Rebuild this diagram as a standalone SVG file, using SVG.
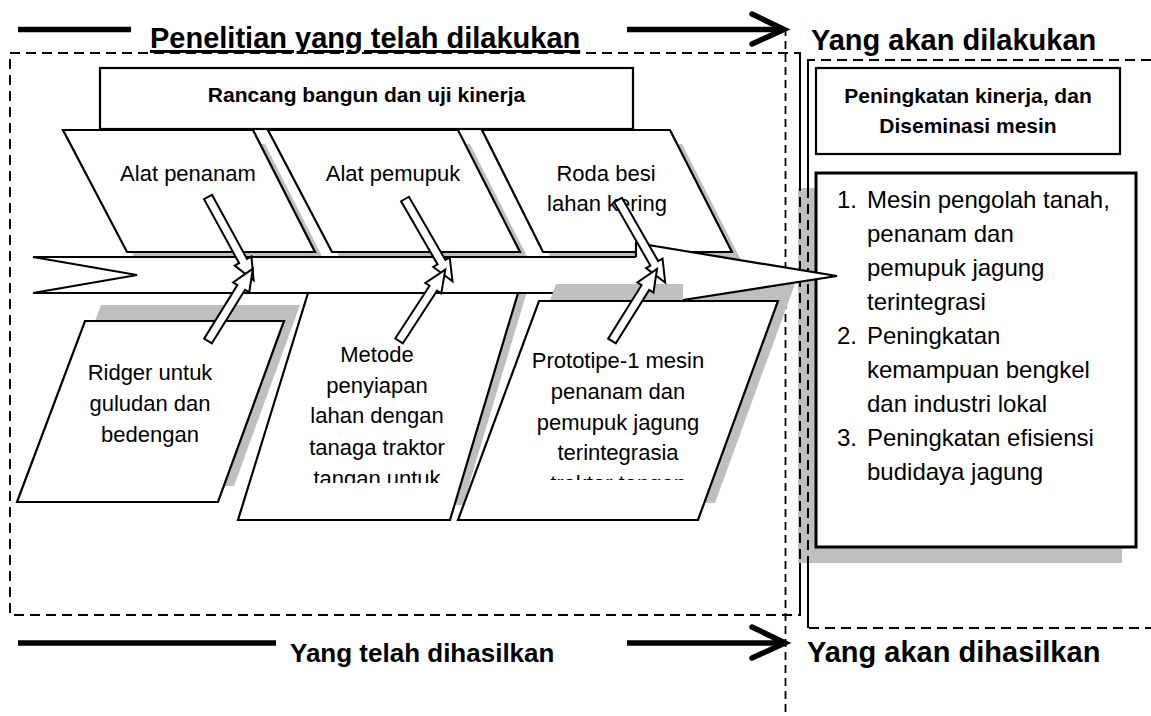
<svg xmlns="http://www.w3.org/2000/svg" width="1151" height="716" viewBox="0 0 1151 716">
<style>
  text { font-family: "Liberation Sans", Arial, sans-serif; fill: #000; }
  .hdr { font-size: 29px; font-weight: bold; }
  .hdr2 { font-size: 26px; font-weight: bold; }
  .ttl { font-size: 21px; font-weight: bold; }
  .t { font-size: 22px; text-anchor: middle; }
  .l { font-size: 24px; }
  .box { fill: #fff; stroke: #000; stroke-width: 2.2; }
  .shd { fill: #bfbfbf; stroke: none; }
  .dash { fill: none; stroke: #000; stroke-width: 2; stroke-dasharray: 10 6; }
  .thick { fill: none; stroke: #000; stroke-width: 5.5; }
  .chev { fill: none; stroke: #000; stroke-width: 5.5; stroke-linecap: round; stroke-linejoin: miter; }
  .blk { fill: #fff; stroke: #000; stroke-width: 2; stroke-linejoin: miter; }
</style>
<defs>
  <path id="au" d="M0,-4.5 L73,-4.5 L73,-9.5 L95,0 L73,9.5 L73,4.5 L0,4.5 Z"/>
  <path id="al" d="M0,-4.5 L63,-4.5 L63,-9.5 L85,0 L63,9.5 L63,4.5 L0,4.5 Z"/>
  <clipPath id="c2"><rect x="220" y="300" width="320" height="183"/></clipPath>
  <clipPath id="c3"><rect x="450" y="300" width="340" height="180"/></clipPath>
</defs>

<!-- frame lines and headings -->
<g id="frames">
  <rect class="dash" x="10" y="53" width="790" height="562"/>
  <path class="dash" d="M1151,60 L808,60 L808,628 L1151,628"/>
  <line x1="785.5" y1="28" x2="785.5" y2="716" stroke="#000" stroke-width="1.8" stroke-dasharray="8 5"/>
</g>

<g id="header-top">
  <line class="thick" x1="18" y1="29.5" x2="131" y2="29.5"/>
  <text class="hdr" x="150" y="48" text-decoration="underline">Penelitian yang telah dilakukan</text>
  <line class="thick" x1="627" y1="29.5" x2="780" y2="29.5"/>
  <polyline class="chev" points="752,14 784,29.5 752,44"/>
  <text class="hdr" x="811" y="50">Yang akan dilakukan</text>
</g>

<g id="header-bottom">
  <line class="thick" x1="18" y1="643" x2="276" y2="643"/>
  <text class="hdr2" x="290" y="662">Yang telah dihasilkan</text>
  <line class="thick" x1="627" y1="643" x2="782" y2="643"/>
  <polyline class="chev" points="752,627 785,643 752,658"/>
  <text class="hdr" x="807" y="662">Yang akan dihasilkan</text>
</g>

<!-- right side boxes -->
<g id="box-kinerja">
  <rect class="box" x="816" y="68" width="304" height="86"/>
  <text class="ttl" x="968" y="103" text-anchor="middle">Peningkatan kinerja, dan</text>
  <text class="ttl" x="968" y="133" text-anchor="middle">Diseminasi mesin</text>
</g>

<g id="box-hasil">
  <rect class="shd" x="798" y="188" width="324" height="375"/>
  <rect x="816" y="173" width="320" height="374" fill="#fff" stroke="#000" stroke-width="3"/>
  <text class="l" x="837" y="208">1.</text>
  <text class="l" x="867" y="208">Mesin pengolah tanah,</text>
  <text class="l" x="867" y="242">penanam dan</text>
  <text class="l" x="867" y="276">pemupuk jagung</text>
  <text class="l" x="867" y="310">terintegrasi</text>
  <text class="l" x="837" y="344">2.</text>
  <text class="l" x="867" y="344">Peningkatan</text>
  <text class="l" x="867" y="378">kemampuan bengkel</text>
  <text class="l" x="867" y="412">dan industri lokal</text>
  <text class="l" x="837" y="446">3.</text>
  <text class="l" x="867" y="446">Peningkatan efisiensi</text>
  <text class="l" x="867" y="480">budidaya jagung</text>
</g>
<!-- redraw dashed lines over the shadow -->
<g id="frames-over">
  <line class="dash" x1="800" y1="53" x2="800" y2="615"/>
  <line class="dash" x1="808" y1="60" x2="808" y2="628"/>
</g>

<g id="title-box">
  <rect class="box" x="100" y="68" width="533" height="61"/>
  <text class="ttl" x="366.5" y="102" text-anchor="middle">Rancang bangun dan uji kinerja</text>
</g>

<!-- upper bones -->
<g id="up1">
  <polygon class="shd" points="75,144 265,144 327,266 139,266"/>
  <polygon class="box" points="63,130 253,130 315,252 127,252"/>
</g>
<g id="up2">
  <polygon class="shd" points="280,144 470,144 532,266 344,266"/>
  <polygon class="box" points="268,130 458,130 520,252 332,252"/>
</g>
<g id="up3">
  <polygon class="shd" points="494,144 682,144 744,266 555,266"/>
  <polygon class="box" points="482,130 670,130 732,252 543,252"/>
</g>

<!-- lower shadow 2 (under spine) -->
<polygon class="shd" points="321,278 531,278 463,505 251,505"/>

<!-- spine -->
<g id="spine">
  <polygon points="33,257 636,257 636,293 33,293 137,275" fill="#fff"/>
  <path d="M636,257 L33,257 L137,275 L33,293 L640,293" fill="none" stroke="#000" stroke-width="2.2" stroke-linejoin="miter"/>
</g>

<!-- lower shadows 1 and 3 -->
<polygon class="shd" points="101,305 300,305 234,486 33,486"/>
<polygon class="shd" points="556,284 795,284 715,503 475,503"/>

<!-- arrow head of spine -->
<g id="spine-head">
  <polygon points="636,243 837,276 683,300 683,284 636,284" fill="#fff"/>
  <path d="M636,257 L636,243 L837,276 L683,300" fill="none" stroke="#000" stroke-width="2.2" stroke-linejoin="miter"/>
</g>

<!-- lower bones -->
<g id="lo1">
  <polygon class="box" points="85,321 284,321 218,502 17,502"/>
</g>
<g id="lo2">
  <polygon class="box" points="308,293 518,293 450,520 238,520"/>
</g>
<g id="lo3">
  <polygon class="box" points="539,301 778,301 698,520 458,520"/>
</g>

<!-- texts in bones -->
<g id="texts">
  <text class="t" x="188" y="181">Alat penanam</text>
  <text class="t" x="393" y="181">Alat pemupuk</text>
  <text class="t" x="606" y="181">Roda besi</text>
  <text class="t" x="607" y="211">lahan kering</text>

  <text class="t" x="150" y="380">Ridger untuk</text>
  <text class="t" x="150" y="411">guludan dan</text>
  <text class="t" x="150" y="442">bedengan</text>

  <g clip-path="url(#c2)">
    <text class="t" x="377" y="362">Metode</text>
    <text class="t" x="377" y="393">penyiapan</text>
    <text class="t" x="377" y="423">lahan dengan</text>
    <text class="t" x="377" y="455">tanaga traktor</text>
    <text class="t" x="377" y="486">tangan untuk</text>
  </g>

  <g clip-path="url(#c3)">
    <text class="t" x="618" y="368">Prototipe-1 mesin</text>
    <text class="t" x="618" y="399">penanam dan</text>
    <text class="t" x="618" y="430">pemupuk jagung</text>
    <text class="t" x="618" y="460">terintegrasia</text>
    <text class="t" x="618" y="491">traktor tangan</text>
  </g>
</g>

<!-- connectors: block arrows to the spine -->
<g id="connectors">
  <use href="#au" class="blk" transform="translate(208,197) rotate(61.3)"/>
  <use href="#al" class="blk" transform="translate(208,341) rotate(-58.2)"/>
  <use href="#au" class="blk" transform="translate(405,199) rotate(60)"/>
  <use href="#al" class="blk" transform="translate(399,341) rotate(-57)"/>
  <use href="#au" class="blk" transform="translate(618,200) rotate(60.2)"/>
  <use href="#al" class="blk" transform="translate(612,341) rotate(-58)"/>
</g>
</svg>
